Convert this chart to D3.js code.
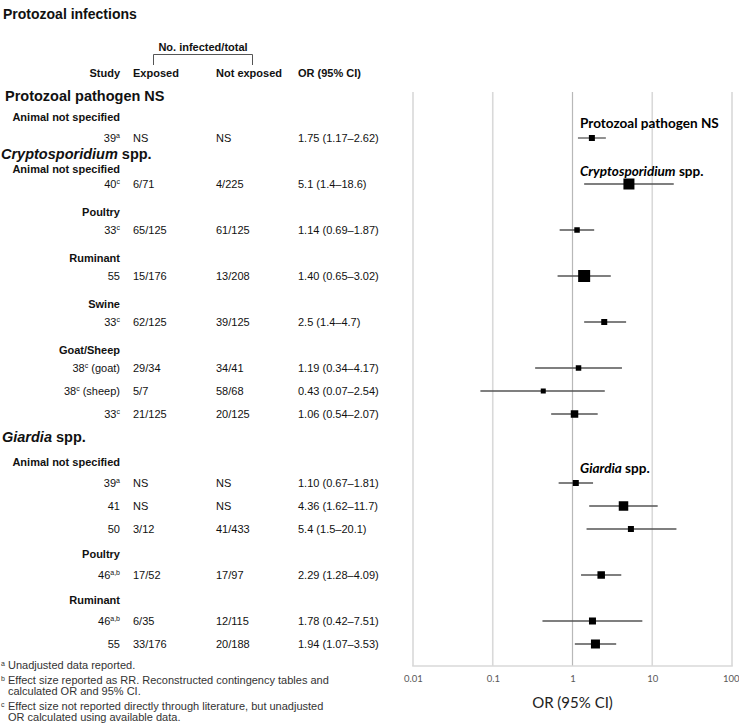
<!DOCTYPE html>
<html><head><meta charset="utf-8">
<script src="https://cdn.jsdelivr.net/npm/d3@7"></script>
<style>
html,body{margin:0;padding:0;background:#fff;}
svg{display:block;}
</style></head>
<body>
<script>
// ---------- data ----------
const studies      = ["39","40","33","55","33","38","38","33","39","41","50","46","46","55"];
const studySup     = ["a","c","c","","c","c","c","c","a","","","a,b","a,b",""];
const studySuffix  = ["","","","","",""," (goat)"," (sheep)","","","","","",""].map((d,i)=>i===5?" (goat)":i===6?" (sheep)":"");
const exposed      = ["NS","6/71","65/125","15/176","62/125","29/34","5/7","21/125","NS","NS","3/12","17/52","6/35","33/176"];
const notExposed   = ["NS","4/225","61/125","13/208","39/125","34/41","58/68","20/125","NS","NS","41/433","17/97","12/115","20/188"];
const orValues     = [1.75,5.1,1.14,1.40,2.5,1.19,0.43,1.06,1.10,4.36,5.4,2.29,1.78,1.94];
const ciLow        = [1.17,1.4,0.69,0.65,1.4,0.34,0.07,0.54,0.67,1.62,1.5,1.28,0.42,1.07];
const ciHigh       = [2.62,18.6,1.87,3.02,4.7,4.17,2.54,2.07,1.81,11.7,20.1,4.09,7.51,3.53];
const orLabels     = ["1.75 (1.17–2.62)","5.1 (1.4–18.6)","1.14 (0.69–1.87)","1.40 (0.65–3.02)","2.5 (1.4–4.7)",
                      "1.19 (0.34–4.17)","0.43 (0.07–2.54)","1.06 (0.54–2.07)","1.10 (0.67–1.81)","4.36 (1.62–11.7)",
                      "5.4 (1.5–20.1)","2.29 (1.28–4.09)","1.78 (0.42–7.51)","1.94 (1.07–3.53)"];
const weights      = [6,11,5.5,12,6,5.5,5,7.5,6,9.5,6,7.5,7,9];
const rowSlots     = [0,2,4,6,8,10,11,12,15,16,17,19,21,22];

const sectionNames   = ["Protozoal pathogen NS","Cryptosporidium","Giardia"];
const sectionSuffix  = [""," spp."," spp."];
const sectionItalic  = [false,true,true];
const sectionSlots   = [-1.83,0.7,13.0];
const plotLabelSlots = [-0.65,1.43,14.35];

const subgroupNames = ["Animal not specified","Animal not specified","Poultry","Ruminant","Swine","Goat/Sheep","Animal not specified","Poultry","Ruminant"];
const subgroupSlots = [-0.91,1.35,3.2,5.2,7.2,9.2,14.1,18.1,20.1];

const tickValues = [0.01,0.1,1,10,100];
const tickLabels = ["0.01","0.1","1","10","100"];

const footnotes = [
  {sup:"a", lines:["Unadjusted data reported."]},
  {sup:"b", lines:["Effect size reported as RR. Reconstructed contingency tables and","calculated OR and 95% CI."]},
  {sup:"c", lines:["Effect size not reported directly through literature, but unadjusted","OR calculated using available data."]}
];

// ---------- layout ----------
const W = 739, H = 726;
const svg = d3.select("body").append("svg").attr("width",W).attr("height",H);
const ARIAL = "'Liberation Sans', Arial, sans-serif";
const CAL = "Lato, 'Open Sans', sans-serif";
const ink = "#111";

const x = d3.scaleLog().domain([0.01,100]).range([413,732]);
const y = d3.scaleLinear().domain([-2,23]).range([92,667]);
const size = d3.scaleLinear().domain([0,12]).range([0,12]);
const plotBottom = 666;

// title
svg.append("text").attr("x",3).attr("y",19).text("Protozoal infections")
  .attr("font-family",ARIAL).attr("font-weight","bold").attr("font-size",14).attr("fill",ink);

// bracket header
svg.append("text").attr("x",203).attr("y",51).attr("text-anchor","middle").text("No. infected/total")
  .attr("font-family",ARIAL).attr("font-weight","bold").attr("font-size",11).attr("fill",ink);
svg.append("path").attr("d","M153.5,65 V54.5 H252.5 V65").attr("fill","none").attr("stroke","#555").attr("stroke-width",1);

const colStudy = 120, colExp = 133, colNot = 216, colOR = 298;
const hdrY = 77;
[["Study",colStudy,"end"],["Exposed",colExp,"start"],["Not exposed",colNot,"start"],["OR (95% CI)",colOR,"start"]].forEach(h=>{
  svg.append("text").attr("x",h[1]).attr("y",hdrY).attr("text-anchor",h[2]).text(h[0])
    .attr("font-family",ARIAL).attr("font-weight","bold").attr("font-size",11).attr("fill",ink);
});

// section headers
const secX = [5,1,2];
sectionNames.forEach((s,i)=>{
  const t = svg.append("text").attr("x",secX[i]).attr("y",y(sectionSlots[i])+5)
    .attr("font-family",ARIAL).attr("font-weight","bold").attr("font-size",14.5).attr("fill",ink);
  t.append("tspan").attr("font-style",sectionItalic[i]?"italic":"normal").text(s);
  if(sectionSuffix[i]) t.append("tspan").text(sectionSuffix[i]);
});

// subgroup headers
subgroupNames.forEach((s,i)=>{
  svg.append("text").attr("x",colStudy).attr("y",y(subgroupSlots[i])+4).attr("text-anchor","end").text(s)
    .attr("font-family",ARIAL).attr("font-weight","bold").attr("font-size",11).attr("fill",ink);
});

// data rows in table
studies.forEach((s,i)=>{
  const yy = y(rowSlots[i])+4;
  const t = svg.append("text").attr("x",colStudy).attr("y",yy).attr("text-anchor","end")
    .attr("font-family",ARIAL).attr("font-size",11).attr("fill",ink);
  t.append("tspan").text(s);
  if(studySup[i]) t.append("tspan").attr("font-size",7).attr("dy",-4).text(studySup[i]);
  if(studySuffix[i]) t.append("tspan").attr("dy",studySup[i]?4:0).text(studySuffix[i]);
  [[exposed[i],colExp],[notExposed[i],colNot],[orLabels[i],colOR]].forEach(c=>{
    svg.append("text").attr("x",c[1]).attr("y",yy).text(c[0])
      .attr("font-family",ARIAL).attr("font-size",11).attr("fill",ink);
  });
});

// footnotes
let fy = 669;
footnotes.forEach(f=>{
  svg.append("text").attr("x",1).attr("y",fy-3).text(f.sup)
    .attr("font-family",ARIAL).attr("font-size",7).attr("fill","#333");
  f.lines.forEach((l,j)=>{
    svg.append("text").attr("x",8).attr("y",fy).text(l)
      .attr("font-family",ARIAL).attr("font-size",11).attr("fill","#333");
    fy += 11.5;
  });
  fy += 3;
});

// ---------- plot ----------
const grid = svg.append("g");
grid.selectAll("line").data(tickValues).join("line")
  .attr("x1",d=>x(d)).attr("x2",d=>x(d)).attr("y1",92).attr("y2",plotBottom)
  .attr("stroke",d=>d===1?"#b8b8b8":"#d9d9d9").attr("stroke-width",d=>d===1?1.2:1.6);
svg.append("line").attr("x1",x(0.01)-0.8).attr("x2",x(100)+0.8).attr("y1",plotBottom).attr("y2",plotBottom)
  .attr("stroke","#d9d9d9").attr("stroke-width",1.6);

const axis = svg.append("g").attr("transform",`translate(0,${plotBottom})`)
  .call(d3.axisBottom(x).tickValues(tickValues).tickFormat((d,i)=>tickLabels[i]).tickSize(0).tickPadding(9));
axis.select(".domain").remove();
axis.selectAll("text").attr("font-family",CAL).attr("font-size",9.5).attr("fill","#595959");
axis.selectAll(".tick").filter(d=>d===100).select("text").attr("text-anchor","end").attr("dx",7);

svg.append("text").attr("x",x(1)).attr("y",708).attr("text-anchor","middle").text("OR (95% CI)")
  .attr("font-family",CAL).attr("font-size",15).attr("fill","#222");

// CI lines
svg.append("g").selectAll("line").data(orValues).join("line")
  .attr("x1",(d,i)=>x(ciLow[i])).attr("x2",(d,i)=>x(ciHigh[i]))
  .attr("y1",(d,i)=>y(rowSlots[i])).attr("y2",(d,i)=>y(rowSlots[i]))
  .attr("stroke","#555").attr("stroke-width",1.3);
// markers
svg.append("g").selectAll("rect").data(orValues).join("rect")
  .attr("x",(d,i)=>x(d)-size(weights[i])/2).attr("y",(d,i)=>y(rowSlots[i])-size(weights[i])/2)
  .attr("width",(d,i)=>size(weights[i])).attr("height",(d,i)=>size(weights[i])).attr("fill","#000");

// plot labels
const plX = 580;
const pl = svg.append("g");
sectionNames.forEach((s,i)=>{
  const t = pl.append("text").attr("x",plX).attr("y",y(plotLabelSlots[i])+5)
    .attr("font-family",CAL).attr("font-weight","bold").attr("font-size",15).attr("fill","#000");
  t.append("tspan").attr("font-style",sectionItalic[i]?"italic":"normal").text(s);
  if(sectionSuffix[i]) t.append("tspan").text(sectionSuffix[i]);
});
const w0 = pl.select("text").node().getComputedTextLength();
const fs = Math.min(15, 15*139/w0);
pl.selectAll("text").attr("font-size",fs);
</script>
</body></html>
